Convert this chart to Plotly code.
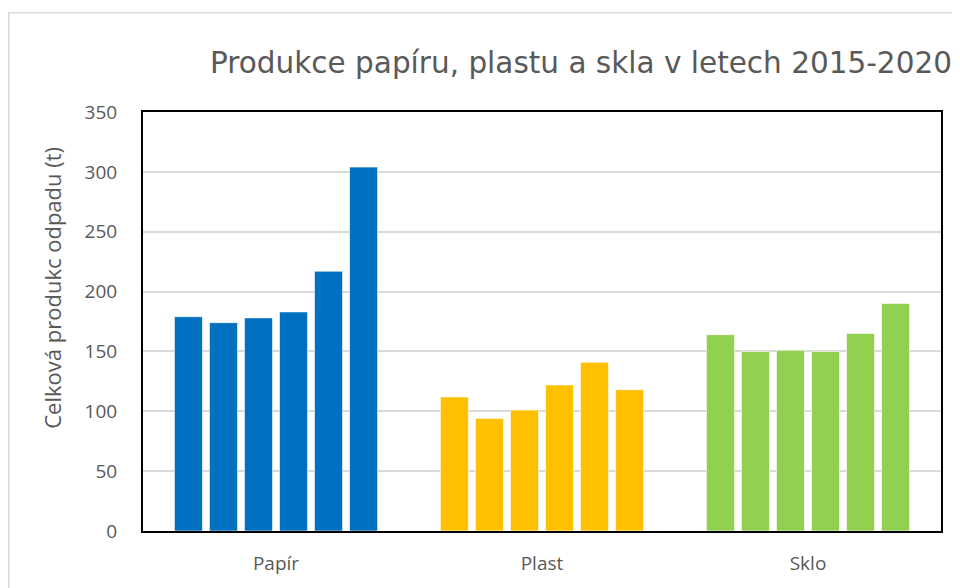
import plotly.graph_objects as go

categories = ["Papír", "Plast", "Sklo"]
years = ["2015", "2016", "2017", "2018", "2019", "2020"]
papir = [179, 174, 178, 183, 217, 304]
plast = [112, 94, 101, 122, 141, 118]
sklo = [164, 150, 151, 150, 165, 190]
colors = ["#0070C0", "#FFC000", "#92D050"]

fig = go.Figure()
for i, yr in enumerate(years):
    fig.add_trace(go.Bar(
        x=categories,
        y=[papir[i], plast[i], sklo[i]],
        name=yr,
        marker=dict(color=colors, line=dict(color="rgba(255,255,255,0.6)", width=1)),
        showlegend=False,
    ))

# page body has an 8px margin; figure sized to sit inside the window
W, H = 952, 580
L, T = 135, 104
PW, PH = 798, 422
font_family = "Open Sans, sans-serif"
fig.update_layout(
    width=W, height=H,
    margin=dict(l=L, r=W - L - PW, t=T, b=H - T - PH),
    paper_bgcolor="white", plot_bgcolor="white",
    barmode="group", bargap=0.21, bargroupgap=0.2,
    font=dict(family=font_family, color="#595959", size=19),
    title=dict(text="Produkce papíru, plastu a skla v letech 2015-2020",
               x=573 / W, xanchor="center", y=1 - 55 / H, yanchor="middle",
               font=dict(size=29.5, color="#595959", family="DejaVu Sans, sans-serif")),
    xaxis=dict(showline=True, linecolor="black", linewidth=2, mirror=True,
               ticks="", ticklabelstandoff=14,
               tickfont=dict(size=19, color="#595959")),
    yaxis=dict(range=[0, 350], dtick=50, showgrid=True, gridcolor="#D9D9D9", gridwidth=2,
               showline=True, linecolor="black", linewidth=2, mirror=True, zeroline=False,
               ticks="", ticklabelstandoff=20,
               tickfont=dict(size=19, color="#595959")),
    annotations=[dict(text="Celková produkc odpadu (t)", textangle=-90,
                      xref="paper", yref="paper",
                      x=(44 - L) / PW, y=1 - (281 - T) / PH,
                      xanchor="center", yanchor="middle", showarrow=False,
                      font=dict(size=22, color="#595959", family=font_family))],
    shapes=[dict(type="rect", xref="paper", yref="paper",
                 x0=(0.75 - L) / PW, x1=1.2, y0=-0.3, y1=1 + (T - 4) / PH,
                 line=dict(color="#D9D9D9", width=1.5), layer="below")],
)

fig.write_html("out.html")
